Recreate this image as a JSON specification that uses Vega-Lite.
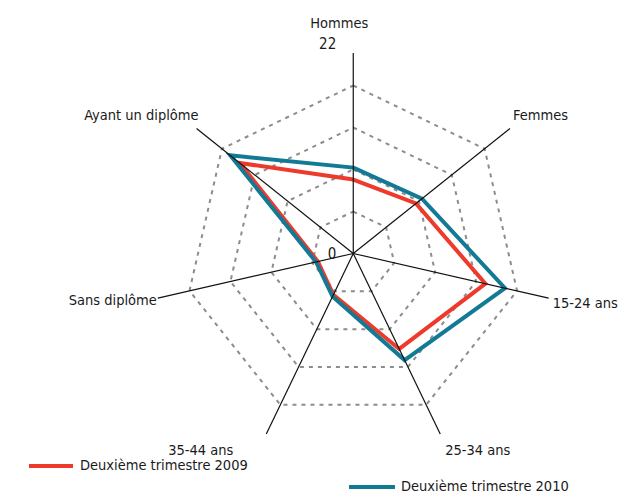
{
  "$schema": "https://vega.github.io/schema/vega-lite/v6.json",
  "width": 619,
  "height": 494,
  "padding": 0,
  "autosize": {"type": "none"},
  "background": "white",
  "config": {"view": {"stroke": null}, "font": "DejaVu Sans Condensed"},
  "datasets": {
    "axes": [
      {"axe": "Hommes", "i": 0, "graduations": [4.4, 8.8, 13.2, 17.6]},
      {"axe": "Femmes", "i": 1, "graduations": [4.4, 8.8, 13.2, 17.6]},
      {"axe": "15-24 ans", "i": 2, "graduations": [4.4, 8.8, 13.2, 17.6]},
      {"axe": "25-34 ans", "i": 3, "graduations": [4.4, 8.8, 13.2, 17.6]},
      {"axe": "35-44 ans", "i": 4, "graduations": [4.4, 8.8, 13.2, 17.6]},
      {"axe": "Sans diplôme", "i": 5, "graduations": [4.4, 8.8, 13.2, 17.6]},
      {"axe": "Ayant un diplôme", "i": 6, "graduations": [4.4, 8.8, 13.2, 17.6]}
    ],
    "series": [
      {"serie": "Deuxième trimestre 2009", "axe": "Hommes", "i": 0, "valeur": 7.75},
      {"serie": "Deuxième trimestre 2009", "axe": "Femmes", "i": 1, "valeur": 8.4},
      {"serie": "Deuxième trimestre 2009", "axe": "15-24 ans", "i": 2, "valeur": 14.2},
      {"serie": "Deuxième trimestre 2009", "axe": "25-34 ans", "i": 3, "valeur": 11.1},
      {"serie": "Deuxième trimestre 2009", "axe": "35-44 ans", "i": 4, "valeur": 4.8},
      {"serie": "Deuxième trimestre 2009", "axe": "Sans diplôme", "i": 5, "valeur": 3.8},
      {"serie": "Deuxième trimestre 2009", "axe": "Ayant un diplôme", "i": 6, "valeur": 15.2},
      {"serie": "Deuxième trimestre 2010", "axe": "Hommes", "i": 0, "valeur": 9.0},
      {"serie": "Deuxième trimestre 2010", "axe": "Femmes", "i": 1, "valeur": 9.2},
      {"serie": "Deuxième trimestre 2010", "axe": "15-24 ans", "i": 2, "valeur": 16.3},
      {"serie": "Deuxième trimestre 2010", "axe": "25-34 ans", "i": 3, "valeur": 12.4},
      {"serie": "Deuxième trimestre 2010", "axe": "35-44 ans", "i": 4, "valeur": 5.0},
      {"serie": "Deuxième trimestre 2010", "axe": "Sans diplôme", "i": 5, "valeur": 4.0},
      {"serie": "Deuxième trimestre 2010", "axe": "Ayant un diplôme", "i": 6, "valeur": 16.5}
    ]
  },
  "resolve": {"scale": {"stroke": "independent"}},
  "layer": [
    {
      "data": {"name": "axes"},
      "transform": [
        {"flatten": ["graduations"]},
        {"calculate": "2*PI*datum.i/7", "as": "angle"},
        {"calculate": "datum.graduations*sin(datum.angle)", "as": "x"},
        {"calculate": "datum.graduations*cos(datum.angle)", "as": "y"}
      ],
      "mark": {"type": "line", "interpolate": "linear-closed", "stroke": "#8c8c8c", "strokeWidth": 2, "strokeDash": [4, 5]},
      "encoding": {
        "x": {"field": "x", "type": "quantitative", "scale": {"domain": [-37.01, 27.84], "nice": false, "zero": false}, "axis": null},
        "y": {"field": "y", "type": "quantitative", "scale": {"domain": [-25.2, 26.56], "nice": false, "zero": false}, "axis": null},
        "detail": {"field": "graduations", "type": "nominal"},
        "order": {"field": "i", "type": "quantitative"}
      }
    },
    {
      "data": {"name": "series"},
      "transform": [
        {"filter": "datum.serie === 'Deuxième trimestre 2009'"},
        {"calculate": "2*PI*datum.i/7", "as": "angle"},
        {"calculate": "datum.valeur*sin(datum.angle)", "as": "x"},
        {"calculate": "datum.valeur*cos(datum.angle)", "as": "y"}
      ],
      "mark": {"type": "line", "interpolate": "linear-closed", "strokeWidth": 4, "strokeJoin": "miter"},
      "encoding": {
        "x": {"field": "x", "type": "quantitative"},
        "y": {"field": "y", "type": "quantitative"},
        "order": {"field": "i", "type": "quantitative"},
        "stroke": {
          "field": "serie", "type": "nominal",
          "scale": {"domain": ["Deuxième trimestre 2009"], "range": ["#ee3a2b"]},
          "legend": {"orient": "none", "legendX": 27, "legendY": 442, "title": null, "padding": 0, "symbolType": "stroke", "symbolSize": 1936, "symbolStrokeWidth": 4, "labelFontSize": 14.5, "labelFont": "DejaVu Sans Condensed", "labelColor": "#1a1a1a", "labelOffset": 5, "labelLimit": 300}
        }
      }
    },
    {
      "data": {"name": "series"},
      "transform": [
        {"filter": "datum.serie === 'Deuxième trimestre 2010'"},
        {"calculate": "2*PI*datum.i/7", "as": "angle"},
        {"calculate": "datum.valeur*sin(datum.angle)", "as": "x"},
        {"calculate": "datum.valeur*cos(datum.angle)", "as": "y"}
      ],
      "mark": {"type": "line", "interpolate": "linear-closed", "strokeWidth": 4, "strokeJoin": "miter"},
      "encoding": {
        "x": {"field": "x", "type": "quantitative"},
        "y": {"field": "y", "type": "quantitative"},
        "order": {"field": "i", "type": "quantitative"},
        "stroke": {
          "field": "serie", "type": "nominal",
          "scale": {"domain": ["Deuxième trimestre 2010"], "range": ["#137a96"]},
          "legend": {"orient": "none", "legendX": 347, "legendY": 462, "title": null, "padding": 0, "symbolType": "stroke", "symbolSize": 2116, "symbolStrokeWidth": 4, "labelFontSize": 14.5, "labelFont": "DejaVu Sans Condensed", "labelColor": "#1a1a1a", "labelOffset": 4, "labelLimit": 300}
        }
      }
    },
    {
      "data": {"name": "axes"},
      "transform": [
        {"calculate": "2*PI*datum.i/7", "as": "angle"},
        {"calculate": "21*sin(datum.angle)", "as": "ex"},
        {"calculate": "21*cos(datum.angle)", "as": "ey"},
        {"calculate": "0", "as": "cx"},
        {"calculate": "0", "as": "cy"}
      ],
      "mark": {"type": "rule", "color": "#111111", "strokeWidth": 1.2},
      "encoding": {
        "x": {"field": "cx", "type": "quantitative"},
        "y": {"field": "cy", "type": "quantitative"},
        "x2": {"field": "ex"},
        "y2": {"field": "ey"}
      }
    },
    {
      "data": {"values": [{"graduation": 0, "zero": 0}, {"graduation": 22, "zero": 0}]},
      "mark": {"type": "text", "align": "right", "baseline": "alphabetic", "dx": -17, "dy": 5.5, "fontSize": 15, "color": "#1a1a1a"},
      "encoding": {
        "x": {"field": "zero", "type": "quantitative"},
        "y": {"field": "graduation", "type": "quantitative"},
        "text": {"field": "graduation", "type": "quantitative"}
      }
    },
    {
      "data": {"name": "axes"},
      "transform": [
        {"filter": "datum.i === 0"},
        {"calculate": "2*PI*datum.i/7", "as": "angle"},
        {"calculate": "21*sin(datum.angle)", "as": "x"},
        {"calculate": "21*cos(datum.angle)", "as": "y"}
      ],
      "mark": {"type": "text", "align": "center", "baseline": "alphabetic", "dx": -14, "dy": -25, "fontSize": 14.5, "color": "#1a1a1a"},
      "encoding": {"x": {"field": "x", "type": "quantitative"}, "y": {"field": "y", "type": "quantitative"}, "text": {"field": "axe", "type": "nominal"}}
    },
    {
      "data": {"name": "axes"},
      "transform": [
        {"filter": "datum.i === 1"},
        {"calculate": "2*PI*datum.i/7", "as": "angle"},
        {"calculate": "21*sin(datum.angle)", "as": "x"},
        {"calculate": "21*cos(datum.angle)", "as": "y"}
      ],
      "mark": {"type": "text", "align": "left", "baseline": "alphabetic", "dx": 3, "dy": -9, "fontSize": 14.5, "color": "#1a1a1a"},
      "encoding": {"x": {"field": "x", "type": "quantitative"}, "y": {"field": "y", "type": "quantitative"}, "text": {"field": "axe", "type": "nominal"}}
    },
    {
      "data": {"name": "axes"},
      "transform": [
        {"filter": "datum.i === 2"},
        {"calculate": "2*PI*datum.i/7", "as": "angle"},
        {"calculate": "21*sin(datum.angle)", "as": "x"},
        {"calculate": "21*cos(datum.angle)", "as": "y"}
      ],
      "mark": {"type": "text", "align": "left", "baseline": "alphabetic", "dx": 4, "dy": 10, "fontSize": 14.5, "color": "#1a1a1a"},
      "encoding": {"x": {"field": "x", "type": "quantitative"}, "y": {"field": "y", "type": "quantitative"}, "text": {"field": "axe", "type": "nominal"}}
    },
    {
      "data": {"name": "axes"},
      "transform": [
        {"filter": "datum.i === 3"},
        {"calculate": "2*PI*datum.i/7", "as": "angle"},
        {"calculate": "21*sin(datum.angle)", "as": "x"},
        {"calculate": "21*cos(datum.angle)", "as": "y"}
      ],
      "mark": {"type": "text", "align": "left", "baseline": "alphabetic", "dx": 5, "dy": 20.5, "fontSize": 14.5, "color": "#1a1a1a"},
      "encoding": {"x": {"field": "x", "type": "quantitative"}, "y": {"field": "y", "type": "quantitative"}, "text": {"field": "axe", "type": "nominal"}}
    },
    {
      "data": {"name": "axes"},
      "transform": [
        {"filter": "datum.i === 4"},
        {"calculate": "2*PI*datum.i/7", "as": "angle"},
        {"calculate": "21*sin(datum.angle)", "as": "x"},
        {"calculate": "21*cos(datum.angle)", "as": "y"}
      ],
      "mark": {"type": "text", "align": "right", "baseline": "alphabetic", "dx": -33, "dy": 20.5, "fontSize": 14.5, "color": "#1a1a1a"},
      "encoding": {"x": {"field": "x", "type": "quantitative"}, "y": {"field": "y", "type": "quantitative"}, "text": {"field": "axe", "type": "nominal"}}
    },
    {
      "data": {"name": "axes"},
      "transform": [
        {"filter": "datum.i === 5"},
        {"calculate": "2*PI*datum.i/7", "as": "angle"},
        {"calculate": "21*sin(datum.angle)", "as": "x"},
        {"calculate": "21*cos(datum.angle)", "as": "y"}
      ],
      "mark": {"type": "text", "align": "right", "baseline": "alphabetic", "dx": -1, "dy": 7, "fontSize": 14.5, "color": "#1a1a1a"},
      "encoding": {"x": {"field": "x", "type": "quantitative"}, "y": {"field": "y", "type": "quantitative"}, "text": {"field": "axe", "type": "nominal"}}
    },
    {
      "data": {"name": "axes"},
      "transform": [
        {"filter": "datum.i === 6"},
        {"calculate": "2*PI*datum.i/7", "as": "angle"},
        {"calculate": "21*sin(datum.angle)", "as": "x"},
        {"calculate": "21*cos(datum.angle)", "as": "y"}
      ],
      "mark": {"type": "text", "align": "right", "baseline": "alphabetic", "dx": 2, "dy": -9, "fontSize": 14.5, "color": "#1a1a1a"},
      "encoding": {"x": {"field": "x", "type": "quantitative"}, "y": {"field": "y", "type": "quantitative"}, "text": {"field": "axe", "type": "nominal"}}
    }
  ]
}
